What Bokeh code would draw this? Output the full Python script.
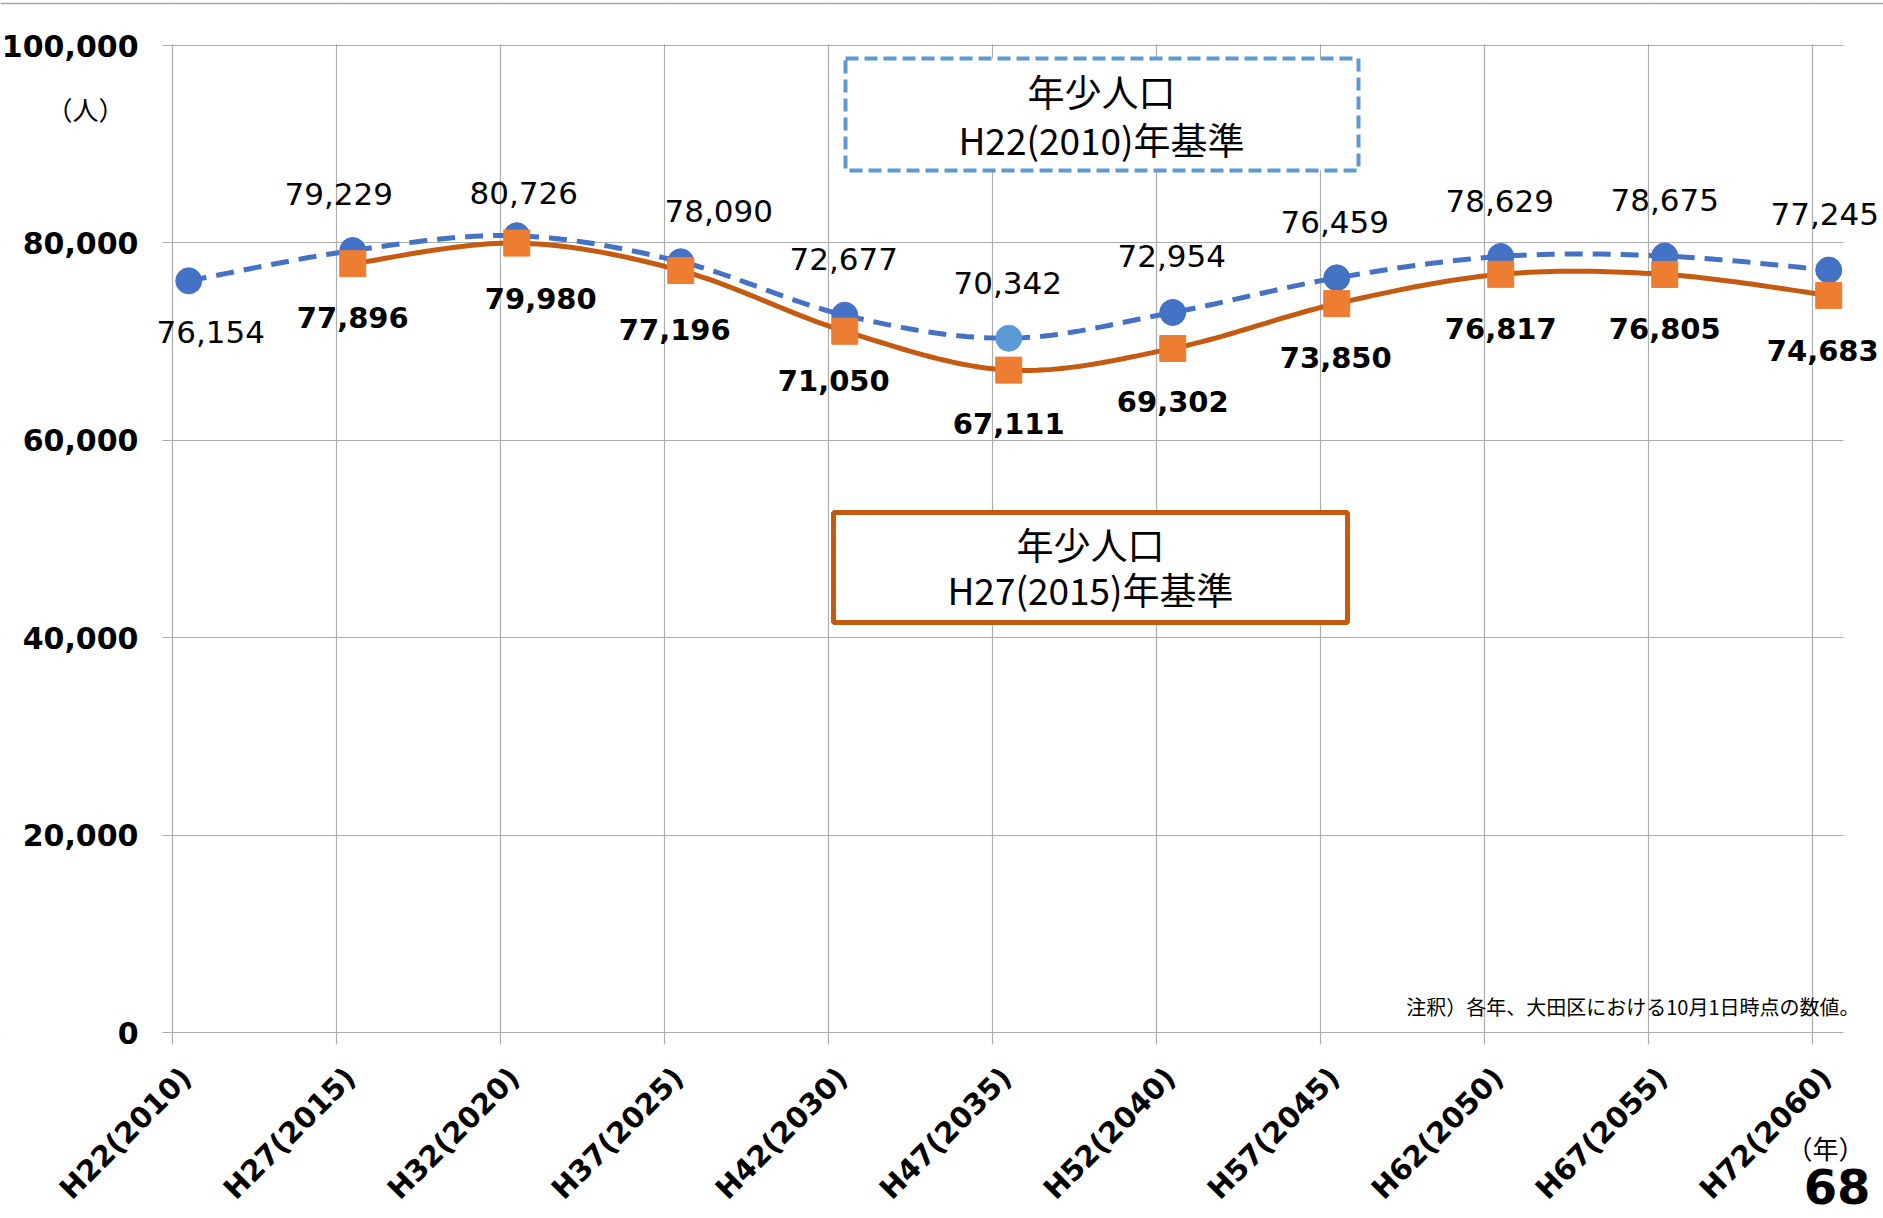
import numpy as np
from bokeh.plotting import figure
from bokeh.models import (Range1d, FixedTicker, NumeralTickFormatter, ColumnDataSource,
                          Label, BoxAnnotation, Span)
from bokeh.core.properties import value
from bokeh.embed import file_html
from bokeh.resources import INLINE

# ---------------- data ----------------
categories = ["H22(2010)", "H27(2015)", "H32(2020)", "H37(2025)", "H42(2030)", "H47(2035)",
              "H52(2040)", "H57(2045)", "H62(2050)", "H67(2055)", "H72(2060)"]
base2010 = [76154, 79229, 80726, 78090, 72677, 70342, 72954, 76459, 78629, 78675, 77245]
base2015_categories = categories[1:]
base2015 = [77896, 79980, 77196, 71050, 67111, 69302, 73850, 76817, 76805, 74683]
y_ticks = [0, 20000, 40000, 60000, 80000, 100000]

box2010_title = ["年少人口", "H22(2010)年基準"]
box2015_title = ["年少人口", "H27(2015)年基準"]
note_text = "注釈）各年、大田区における10月1日時点の数値。"
y_unit = "（人）"
x_unit = "（年）"
page_no = "68"

# label offsets in screen px (style only)
blue_dx = [22, -14, 7, 38, -1, -1, -1, -2, -1, 0, -4]
blue_dy = [51, -57, -43, -51, -56, -55, -56, -56, -55, -56, -56]
orange_dx = [0, 24, -6, -11, 0, 0, -1, 0, 0, -6]
orange_dy = [54, 55, 59, 49, 53, 53, 54, 54, 54, 55]

# ---------------- geometry ----------------
W, H = 1883, 1218
PX_X = 164.0           # px per category
PX_Y = 987.0 / 100000  # px per person
SHIFT = 0.1            # markers sit a bit right of the gridline
LABEL_SHIFT = 0.085    # category labels sit a bit right of the gridline
TICK_LEN = 12          # px the vertical gridlines run below the zero line
PLOT_LEFT_PX, PLOT_TOP_PX, PLOT_BOTTOM_PX = 162, 45, 1032
X_LO = -0.06           # left edge of the visible plot area
X_PLOT_END = 10.19     # right edge of the visible plot area
Y_TOP = 100000

# the frame spans the whole canvas; the visible plot area is a part of it
XR = (X_LO - PLOT_LEFT_PX / PX_X, X_LO + (W - PLOT_LEFT_PX) / PX_X)
YR = (-(H - PLOT_BOTTOM_PX) / PX_Y, Y_TOP + PLOT_TOP_PX / PX_Y)


def px_to_x(px):
    return XR[0] + px / PX_X


def px_to_y(py):
    return YR[1] - py / PX_Y


cat_index = {c: i for i, c in enumerate(categories)}
x_blue = [cat_index[c] + SHIFT for c in categories]
x_orange = [cat_index[c] + SHIFT for c in base2015_categories]


def smooth(xs, ys, n=24):
    X = np.asarray(xs, float) * PX_X
    Y = np.asarray(ys, float) * PX_Y
    P = np.stack([X, Y], axis=1)
    out = [P[0]]
    m = len(P)
    for i in range(m - 1):
        p0 = P[i - 1] if i > 0 else P[i]
        p1 = P[i]
        p2 = P[i + 1]
        p3 = P[i + 2] if i + 2 < m else P[i + 1]
        c1 = p1 + (p2 - p0) / 6.0
        c2 = p2 - (p3 - p1) / 6.0
        t = np.linspace(0, 1, n)[1:, None]
        seg = ((1 - t) ** 3) * p1 + 3 * ((1 - t) ** 2) * t * c1 + 3 * (1 - t) * t ** 2 * c2 + t ** 3 * p2
        out.extend(seg)
    out = np.array(out)
    return out[:, 0] / PX_X, out[:, 1] / PX_Y


p = figure(width=W, height=H, output_backend="svg", toolbar_location=None,
           x_range=Range1d(*XR), y_range=Range1d(*YR),
           min_border_left=0, min_border_right=0, min_border_top=0, min_border_bottom=0,
           background_fill_color="white", border_fill_color="white")
p.outline_line_color = None

GRID = "#ADADAD"
num_font = "DejaVu Sans"
jp_font = "Noto Sans CJK JP"

# axes (pinned to the plot area)
cat_ticks = [cat_index[c] for c in categories]
p.xaxis.fixed_location = 0
p.xaxis.ticker = FixedTicker(ticks=[t + LABEL_SHIFT for t in cat_ticks])
p.xaxis.major_label_overrides = {t + LABEL_SHIFT: c for t, c in zip(cat_ticks, categories)}
p.xaxis.major_label_orientation = np.pi / 4
p.xaxis.major_label_text_font = num_font
p.xaxis.major_label_text_font_style = "bold"
p.xaxis.major_label_text_font_size = "29px"
p.xaxis.major_label_text_color = "black"
p.xaxis.major_label_standoff = 28
p.xaxis.axis_line_color = None
p.xaxis.major_tick_line_color = None
p.xaxis.major_tick_out = TICK_LEN
p.xaxis.major_tick_in = 0
p.xaxis.minor_tick_line_color = None

p.yaxis.fixed_location = X_LO
p.yaxis.bounds = (0, Y_TOP)
p.yaxis.ticker = FixedTicker(ticks=y_ticks)
p.yaxis.formatter = NumeralTickFormatter(format="0,0")
p.yaxis.major_label_text_font = num_font
p.yaxis.major_label_text_font_style = "bold"
p.yaxis.major_label_text_font_size = "30px"
p.yaxis.major_label_text_color = "black"
p.yaxis.axis_line_color = None
p.yaxis.major_tick_line_color = None
p.yaxis.major_tick_out = 0
p.yaxis.major_tick_in = 0
p.yaxis.minor_tick_line_color = None
p.yaxis.major_label_standoff = 24

p.xgrid.ticker = FixedTicker(ticks=cat_ticks)
p.ygrid.ticker = FixedTicker(ticks=y_ticks)
p.xgrid.grid_line_color = GRID
p.ygrid.grid_line_color = GRID
p.xgrid.grid_line_width = 1.2
p.ygrid.grid_line_width = 1.2

# hide gridlines outside the visible plot area (vertical ones poke out below as tick marks)
cover = dict(fill_color="white", fill_alpha=1.0, line_color=None, level="underlay")
p.add_layout(BoxAnnotation(right=X_LO, **cover))
p.add_layout(BoxAnnotation(left=X_PLOT_END, **cover))
p.add_layout(BoxAnnotation(bottom=Y_TOP + 1.2 / PX_Y, **cover))
p.add_layout(BoxAnnotation(top=-TICK_LEN / PX_Y, **cover))

# thin rule at the very top of the page
p.add_layout(Span(location=px_to_y(3), dimension="width", line_color="#A6A6A6", line_width=1.5))

# boxes
p.add_layout(BoxAnnotation(left=px_to_x(845), right=px_to_x(1358), top=px_to_y(58), bottom=px_to_y(170),
                           fill_color="white", fill_alpha=1.0, line_color="#5B9BD5", line_alpha=1.0,
                           line_width=4, line_dash="13 6", level="underlay"))
p.add_layout(BoxAnnotation(left=px_to_x(833), right=px_to_x(1347), top=px_to_y(512), bottom=px_to_y(622),
                           fill_color="white", fill_alpha=1.0, line_color="#C55A11", line_alpha=1.0,
                           line_width=5, level="underlay"))
for txt, yy in zip(box2010_title, [90, 138]):
    p.add_layout(Label(x=px_to_x(1101), y=px_to_y(yy), text=txt, text_align="center", text_baseline="middle",
                       text_font=jp_font, text_font_size="37px", text_color="black"))
for txt, yy in zip(box2015_title, [543, 588]):
    p.add_layout(Label(x=px_to_x(1090), y=px_to_y(yy), text=txt, text_align="center", text_baseline="middle",
                       text_font=jp_font, text_font_size="37px", text_color="black"))

# lines
bx, by = smooth(x_blue, base2010)
ox, oy = smooth(x_orange, base2015)
p.line(bx, by, line_color="#4472C4", line_width=5, line_dash="18 10")
p.line(ox, oy, line_color="#C55A11", line_width=5)

blue_colors = ["#4472C4"] * len(base2010)
blue_colors[5] = "#5B9BD5"
src_b = ColumnDataSource(dict(x=x_blue, y=base2010, c=blue_colors,
                              t=[f"{v:,}" for v in base2010], dx=blue_dx, dy=blue_dy))
src_o = ColumnDataSource(dict(x=x_orange, y=base2015,
                              t=[f"{v:,}" for v in base2015], dx=orange_dx, dy=orange_dy))
p.scatter("x", "y", source=src_b, marker="circle", size=26, fill_color="c", line_color="c")
p.scatter("x", "y", source=src_o, marker="square", size=26, fill_color="#ED7D31", line_color="#ED7D31")

p.text("x", "y", text="t", source=src_b, x_offset="dx", y_offset="dy",
       text_align="center", text_baseline="middle", text_font=value(num_font),
       text_font_size="31px", text_color="black")
p.text("x", "y", text="t", source=src_o, x_offset="dx", y_offset="dy",
       text_align="center", text_baseline="middle", text_font=value(num_font),
       text_font_style="bold", text_font_size="29px", text_color="black")

# other texts
p.add_layout(Label(x=px_to_x(1859), y=px_to_y(1006), text=note_text, text_align="right", text_baseline="middle",
                   text_font=jp_font, text_font_size="20px", text_color="black"))
p.add_layout(Label(x=px_to_x(85), y=px_to_y(108), text=y_unit, text_align="center", text_baseline="middle",
                   text_font=jp_font, text_font_size="26px", text_color="black"))
p.add_layout(Label(x=px_to_x(1825), y=px_to_y(1147), text=x_unit, text_align="center", text_baseline="middle",
                   text_font=jp_font, text_font_size="26px", text_color="black"))
p.add_layout(Label(x=px_to_x(1870), y=px_to_y(1186), text=page_no, text_align="right", text_baseline="middle",
                   text_font=num_font, text_font_style="bold", text_font_size="48px", text_color="black"))

open("out.html", "w").write(file_html(p, INLINE))
